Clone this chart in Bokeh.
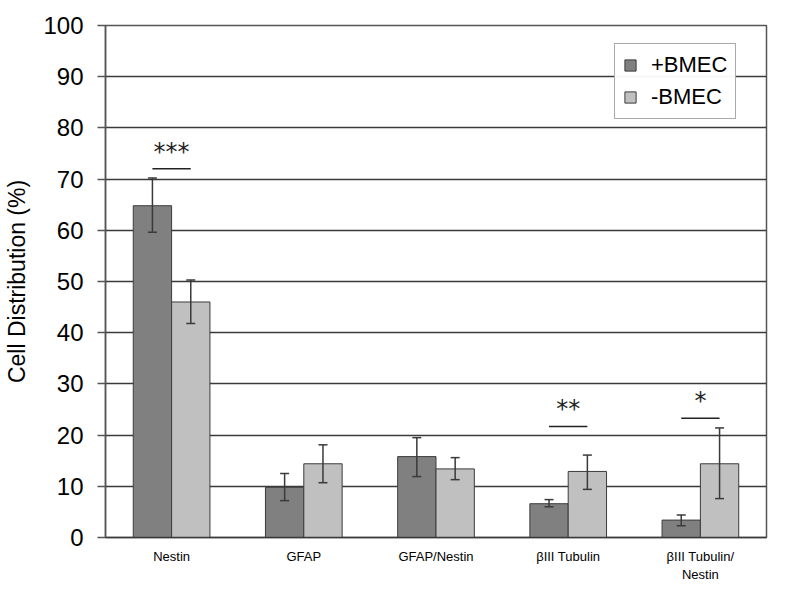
from bokeh.plotting import figure
from bokeh.models import ColumnDataSource, Whisker, Legend, LegendItem, FixedTicker, Range1d
from bokeh.core.properties import value
from bokeh.embed import file_html
from bokeh.resources import INLINE

categories = ["Nestin", "GFAP", "GFAP/Nestin", "βIII Tubulin", "βIII Tubulin/\nNestin"]
plus_vals = [64.8, 9.8, 15.8, 6.6, 3.4]
plus_lo = [59.6, 7.2, 11.9, 6.0, 2.3]
plus_hi = [70.2, 12.5, 19.5, 7.4, 4.4]
minus_vals = [46.0, 14.4, 13.4, 12.9, 14.4]
minus_lo = [41.8, 10.7, 11.3, 9.4, 7.6]
minus_hi = [50.3, 18.1, 15.6, 16.1, 21.4]
y_ticks = [0, 10, 20, 30, 40, 50, 60, 70, 80, 90, 100]

# significance annotations: category index, line height, label
sig_idx = [0, 3, 4]
sig_y = [72.0, 21.7, 23.3]
sig_txt = ["***", "**", "*"]

FONT = "Liberation Sans"
off = 0.145
bw = 0.29

xs = list(range(len(categories)))
src_p = ColumnDataSource(dict(x=[i - off for i in xs], top=plus_vals, lo=plus_lo, hi=plus_hi))
src_m = ColumnDataSource(dict(x=[i + off for i in xs], top=minus_vals, lo=minus_lo, hi=minus_hi))

p = figure(width=790, height=600, output_backend="svg", toolbar_location=None,
           x_range=Range1d(-0.5, len(categories) - 0.5), y_range=Range1d(0, 100),
           min_border_left=105, min_border_right=24, min_border_top=25, min_border_bottom=63)
p.background_fill_color = "white"
p.border_fill_color = "white"
p.outline_line_color = "#555555"
p.outline_line_width = 1.5

rp = p.vbar(x="x", top="top", width=bw, source=src_p, fill_color="#808080", line_color="#3c3c3c", line_width=1)
rm = p.vbar(x="x", top="top", width=bw, source=src_m, fill_color="#c0c0c0", line_color="#3c3c3c", line_width=1)

for s in (src_p, src_m):
    w = Whisker(base="x", lower="lo", upper="hi", source=s, line_color="#3a3a3a", line_width=1.5,
                level="overlay")
    w.upper_head.size = 9
    w.lower_head.size = 9
    w.upper_head.line_color = "#3a3a3a"
    w.lower_head.line_color = "#3a3a3a"
    w.upper_head.line_width = 1.5
    w.lower_head.line_width = 1.5
    p.add_layout(w)

# significance
p.segment(x0=[i - off for i in sig_idx], x1=[i + off for i in sig_idx], y0=sig_y, y1=sig_y,
          line_color="#222222", line_width=1.5)
p.text(x=[float(i) for i in sig_idx], y=[v + 0.6 for v in sig_y], text=sig_txt,
       text_align="center", text_baseline="bottom", text_font=value("DejaVu Sans"),
       text_font_size="24px", text_color="#222222")

# grid
p.xgrid.grid_line_color = None
p.ygrid.grid_line_color = "#3a3a3a"
p.ygrid.grid_line_width = 1.5
p.ygrid.ticker = FixedTicker(ticks=y_ticks)

# y axis
p.yaxis.ticker = FixedTicker(ticks=y_ticks)
p.yaxis.minor_tick_line_color = None
p.yaxis.major_tick_in = 0
p.yaxis.major_tick_out = 8
p.yaxis.major_tick_line_color = "#555555"
p.yaxis.major_tick_line_width = 1.5
p.yaxis.axis_line_color = "#555555"
p.yaxis.axis_line_width = 1.5
p.yaxis.major_label_text_font = FONT
p.yaxis.major_label_text_font_size = "24px"
p.yaxis.major_label_text_color = "black"
p.yaxis.major_label_standoff = 14
p.yaxis.axis_label = "Cell Distribution (%)"
p.yaxis.axis_label_text_font = FONT
p.yaxis.axis_label_text_font_size = "23px"
p.yaxis.axis_label_text_font_style = "normal"
p.yaxis.axis_label_text_color = "black"
p.yaxis.axis_label_standoff = 10

# x axis
p.xaxis.ticker = FixedTicker(ticks=xs)
p.xaxis.major_label_overrides = {i: c for i, c in enumerate(categories)}
p.xaxis.major_tick_line_color = None
p.xaxis.minor_tick_line_color = None
p.xaxis.axis_line_color = "#3a3a3a"
p.xaxis.axis_line_width = 1.5
p.xaxis.major_label_text_font = FONT
p.xaxis.major_label_text_font_size = "13px"
p.xaxis.major_label_text_color = "black"
p.xaxis.major_label_standoff = 5

legend = Legend(items=[LegendItem(label="+BMEC", renderers=[rp]),
                       LegendItem(label="-BMEC", renderers=[rm])],
                location=(509, 418))
legend.label_text_font = FONT
legend.label_text_font_size = "22px"
legend.label_text_color = "black"
legend.border_line_color = "#555555"
legend.border_line_width = 1.5
legend.glyph_width = 14
legend.glyph_height = 14
legend.spacing = 6
legend.padding = 8
legend.label_standoff = 14
legend.margin = 0
p.add_layout(legend)

open("out.html", "w").write(file_html(p, INLINE))
